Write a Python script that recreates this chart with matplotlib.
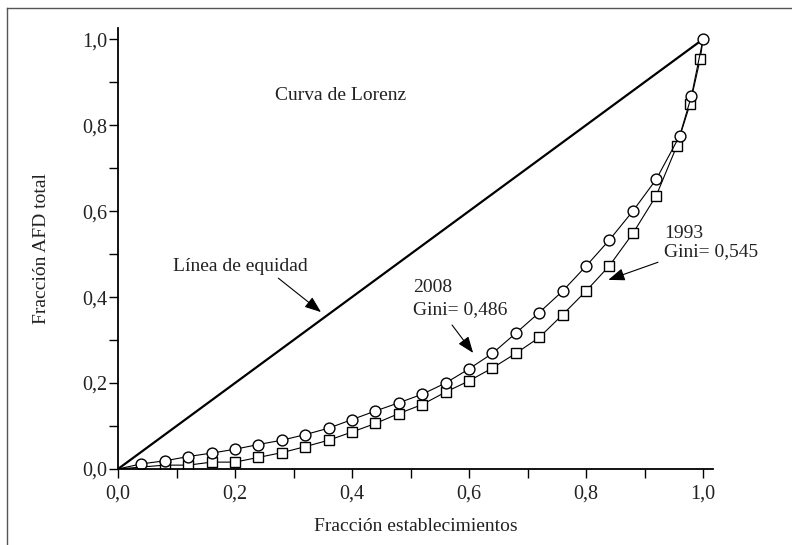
import matplotlib
matplotlib.use('Agg')
import matplotlib.pyplot as plt
from matplotlib.lines import Line2D
from matplotlib.ticker import MultipleLocator, FuncFormatter

plt.rcParams['font.family'] = ['Liberation Serif', 'DejaVu Serif']

# 2008 Lorenz curve (circles)
x2008 = [0.0, 0.04, 0.08, 0.12, 0.16, 0.20, 0.24, 0.28, 0.32, 0.36, 0.40, 0.44, 0.48,
         0.52, 0.56, 0.60, 0.64, 0.68, 0.72, 0.76, 0.80, 0.84, 0.88, 0.92, 0.96, 0.98, 1.0]
y2008 = [0.0, 0.012, 0.019, 0.029, 0.037, 0.046, 0.057, 0.067, 0.080, 0.095, 0.115, 0.135, 0.154,
         0.174, 0.200, 0.233, 0.269, 0.316, 0.364, 0.414, 0.472, 0.533, 0.600, 0.674, 0.775, 0.867, 1.0]

# 1993 Lorenz curve (squares)
x1993 = [0.0, 0.08, 0.12, 0.16, 0.20, 0.24, 0.28, 0.32, 0.36, 0.40, 0.44, 0.48, 0.52,
         0.56, 0.60, 0.64, 0.68, 0.72, 0.76, 0.80, 0.84, 0.88, 0.92, 0.955, 0.978, 0.995, 1.0]
y1993 = [0.0, 0.009, 0.009, 0.016, 0.016, 0.027, 0.038, 0.052, 0.067, 0.086, 0.106, 0.129, 0.150,
         0.179, 0.205, 0.235, 0.269, 0.306, 0.359, 0.414, 0.473, 0.548, 0.636, 0.751, 0.850, 0.953, 1.0]

equity = [0.0, 1.0]

fig = plt.figure(figsize=(7.92, 5.45), dpi=100)
ax = fig.add_axes([118 / 792, 76 / 545, 595 / 792, 441 / 545])

ax.plot(equity, equity, color='black', lw=1.6, solid_capstyle='butt')
ax.plot(x1993, y1993, color='black', lw=0.8, marker='s', ms=6.8, mfc='white', mec='black',
        mew=1.0, markevery=list(range(1, len(x1993) - 1)))
ax.plot(x2008, y2008, color='black', lw=0.8, marker='o', ms=7.8, mfc='white', mec='black',
        mew=1.0, markevery=list(range(1, len(x2008))))

ax.set_xlim(0, 1.017)
ax.set_ylim(0, 1.026)
ax.spines['top'].set_visible(False)
ax.spines['right'].set_visible(False)
ax.spines['left'].set_linewidth(1.3)
ax.spines['bottom'].set_linewidth(1.3)

ax.xaxis.set_major_locator(MultipleLocator(0.2))
ax.xaxis.set_minor_locator(MultipleLocator(0.1))
ax.yaxis.set_major_locator(MultipleLocator(0.2))
ax.yaxis.set_minor_locator(MultipleLocator(0.1))
fmt = FuncFormatter(lambda v, p: f'{v:.1f}'.replace('.', ','))
ax.xaxis.set_major_formatter(fmt)
ax.yaxis.set_major_formatter(fmt)
ax.tick_params(which='both', direction='out', length=6.5, width=1.0, color='black')
ax.tick_params(axis='x', which='major', pad=5, labelsize=14.5, labelcolor='#222222')
ax.tick_params(axis='y', which='major', pad=1.5, labelsize=14.5, labelcolor='#222222')

ax.set_xlabel('Fracción establecimientos', fontsize=14, color='#222222', labelpad=10)
ax.set_ylabel('Fracción AFD total', fontsize=14, color='#222222', labelpad=23)

tc = '#222222'
ax.text(0.268, 0.870, 'Curva de Lorenz', fontsize=14, color=tc, va='center', ha='left')
ax.text(0.094, 0.472, 'Línea de equidad', fontsize=14, color=tc, va='center', ha='left')
ax.text(0.504, 0.423, '2008', fontsize=14, color=tc, va='center', ha='left')
ax.text(0.504, 0.372, 'Gini= 0,486', fontsize=14, color=tc, va='center', ha='left')
ax.text(0.933, 0.549, '1993', fontsize=14, color=tc, va='center', ha='left')
ax.text(0.933, 0.505, 'Gini= 0,545', fontsize=14, color=tc, va='center', ha='left')

arrow = dict(arrowstyle='-|>,head_length=1.0,head_width=0.38', color='black', lw=0.8,
             shrinkA=0, shrinkB=0)
ax.annotate('', xy=(0.347, 0.365), xytext=(0.274, 0.444), arrowprops=arrow)
ax.annotate('', xy=(0.607, 0.270), xytext=(0.571, 0.335), arrowprops=arrow)
ax.annotate('', xy=(0.838, 0.440), xytext=(0.923, 0.481), arrowprops=arrow)

# partial frame around the figure (left and top edges)
fig.add_artist(Line2D([7 / 792, 7 / 792], [0, 1 - 8 / 545], color='#555555', lw=1.0))
fig.add_artist(Line2D([7 / 792, 1], [1 - 8 / 545, 1 - 8 / 545], color='#555555', lw=1.0))

fig.savefig('out.png', dpi=100)
